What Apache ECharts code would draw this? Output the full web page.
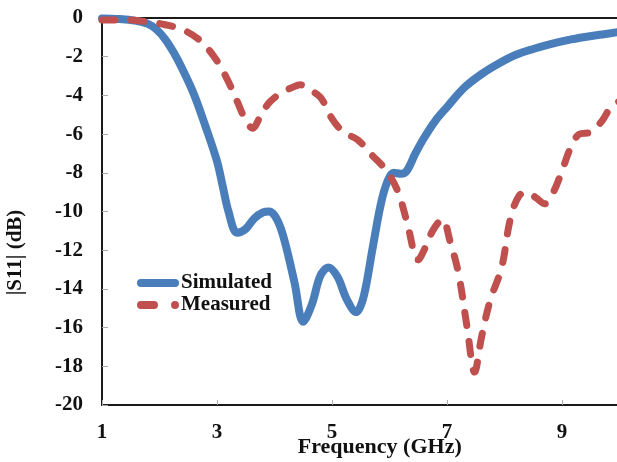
<!DOCTYPE html>
<html>
<head>
<meta charset="utf-8">
<script src="https://cdn.jsdelivr.net/npm/echarts@6/dist/echarts.min.js"></script>
<style>
  html, body { margin: 0; padding: 0; background: #fff; }
  #chart { width: 617px; height: 462px; }
</style>
</head>
<body>
<div id="chart"></div>
<script>
// Return loss |S11| of the antenna, simulated vs measured (frequency in GHz, level in dB)
const simFreq = [1.0, 1.3, 1.6, 1.8, 1.95, 2.1, 2.25, 2.4, 2.6, 2.8, 3.0, 3.1, 3.2, 3.35, 3.5, 3.65, 3.8, 3.9, 4.0, 4.1, 4.2, 4.35, 4.5, 4.65, 4.8, 4.94, 5.1, 5.25, 5.42, 5.55, 5.7, 5.85, 5.97, 6.07, 6.2, 6.3, 6.45, 6.6, 6.8, 7.0, 7.3, 7.6, 7.9, 8.2, 8.5, 8.8, 9.1, 9.4, 9.7, 10.0];
const simS11 = [-0.02, -0.05, -0.15, -0.3, -0.6, -1.1, -1.8, -2.65, -3.95, -5.6, -7.4, -8.7, -10.0, -11.1, -10.9, -10.35, -10.05, -10.0, -10.2, -10.8, -11.8, -13.7, -15.7, -14.8, -13.3, -12.9, -13.4, -14.5, -15.2, -14.4, -12.0, -9.6, -8.4, -8.0, -8.05, -7.9, -7.0, -6.2, -5.3, -4.6, -3.6, -2.9, -2.35, -1.9, -1.6, -1.35, -1.14, -0.98, -0.85, -0.72];

const measFreq = [1.0, 1.4, 1.8, 2.1, 2.4, 2.7, 2.95, 3.15, 3.35, 3.5, 3.62, 3.75, 3.9, 4.1, 4.3, 4.45, 4.6, 4.8, 5.0, 5.2, 5.45, 5.7, 5.95, 6.15, 6.3, 6.5, 6.6, 6.75, 6.92, 7.05, 7.2, 7.35, 7.48, 7.6, 7.75, 7.95, 8.1, 8.25, 8.4, 8.55, 8.7, 8.85, 9.0, 9.15, 9.3, 9.5, 9.7, 9.85, 10.0];
const measS11 = [-0.1, -0.1, -0.2, -0.35, -0.6, -1.15, -2.0, -3.0, -4.3, -5.3, -5.7, -5.1, -4.4, -3.9, -3.6, -3.45, -3.7, -4.1, -5.2, -5.9, -6.3, -7.1, -7.9, -9.0, -10.5, -12.5, -12.0, -11.0, -10.4, -11.5, -13.2, -16.0, -18.3, -16.5, -14.6, -12.9, -10.4, -9.2, -9.0, -9.3, -9.6, -9.0, -7.9, -6.7, -6.0, -5.9, -5.3, -4.6, -4.3];

const seriesNames = ['Simulated', 'Measured'];
const xTitle = 'Frequency (GHz)';
const yTitle = '|S11| (dB)';

const pairs = (xs, ys) => xs.map((x, i) => [x, ys[i]]);

const font = 'Liberation Serif, "Times New Roman", serif';
// Legend keys: a thick rounded bar, and a dash followed by a dot
const solidKey = 'path://M4,0h34a4,4 0 0 1 0,8h-34a4,4 0 0 1 0,-8z';
const dashKey = 'path://M4,0h13a4,4 0 0 1 0,8h-13a4,4 0 0 1 0,-8z M38,0a4,4 0 1 1 0,8a4,4 0 1 1 0,-8z';

const chart = echarts.init(document.getElementById('chart'), null, { renderer: 'canvas' });

chart.setOption({
  animation: false,
  backgroundColor: '#ffffff',
  grid: {
    left: 102, top: 18, bottom: 57, width: 517.5,
    outerBoundsMode: 'none', containLabel: false,
    show: true, borderColor: '#1a1a1a', borderWidth: 2, backgroundColor: 'transparent'
  },
  legend: {
    orient: 'vertical',
    left: 132, top: 267,
    itemWidth: 42, itemHeight: 8, itemGap: 0,
    textStyle: { fontFamily: font, fontWeight: 'bold', fontSize: 21, color: '#111', lineHeight: 22, padding: [0, 0, 0, -3] },
    data: [
      { name: seriesNames[0], icon: solidKey },
      { name: seriesNames[1], icon: dashKey }
    ]
  },
  xAxis: {
    type: 'value', min: 1, max: 10, interval: 2,
    name: xTitle, nameLocation: 'middle', nameGap: 31, nameMoveOverlap: false,
    nameTextStyle: { fontFamily: font, fontWeight: 'bold', fontSize: 22, color: '#111', padding: [0, 0, 0, 38] },
    axisLine: { show: true, onZero: false, lineStyle: { color: '#1a1a1a', width: 2 } },
    axisTick: { show: true, inside: true, length: 5, lineStyle: { color: '#aaa', width: 1 } },
    axisLabel: { margin: 17, showMaxLabel: false, fontFamily: font, fontWeight: 'bold', fontSize: 21, color: '#111' },
    splitLine: { show: false }
  },
  yAxis: {
    type: 'value', min: -20, max: 0, interval: 2,
    name: yTitle, nameLocation: 'middle', nameGap: 76, nameRotate: 90, nameMoveOverlap: false,
    nameTextStyle: { fontFamily: font, fontWeight: 'bold', fontSize: 21, color: '#111', padding: [0, 82, 0, 0] },
    axisLine: { show: true, onZero: false, lineStyle: { color: '#1a1a1a', width: 2 } },
    axisTick: { show: true, inside: true, length: 6, lineStyle: { color: '#aaa', width: 1 } },
    axisLabel: { margin: 19, fontFamily: font, fontWeight: 'bold', fontSize: 21, color: '#111' },
    splitLine: { show: false }
  },
  series: [
    {
      name: seriesNames[0], type: 'line', data: pairs(simFreq, simS11),
      smooth: 0.35, showSymbol: false, symbol: 'none', clip: true,
      lineStyle: { color: '#4a7ebb', width: 8, cap: 'round', join: 'round' },
      itemStyle: { color: '#4a7ebb' }, z: 3
    },
    {
      name: seriesNames[1], type: 'line', data: pairs(measFreq, measS11),
      smooth: 0.35, showSymbol: false, symbol: 'none', clip: true,
      lineStyle: { color: '#c0504d', width: 7, type: [13, 16], cap: 'round', join: 'round' },
      itemStyle: { color: '#c0504d' }, z: 4
    }
  ]
});
</script>
</body>
</html>
